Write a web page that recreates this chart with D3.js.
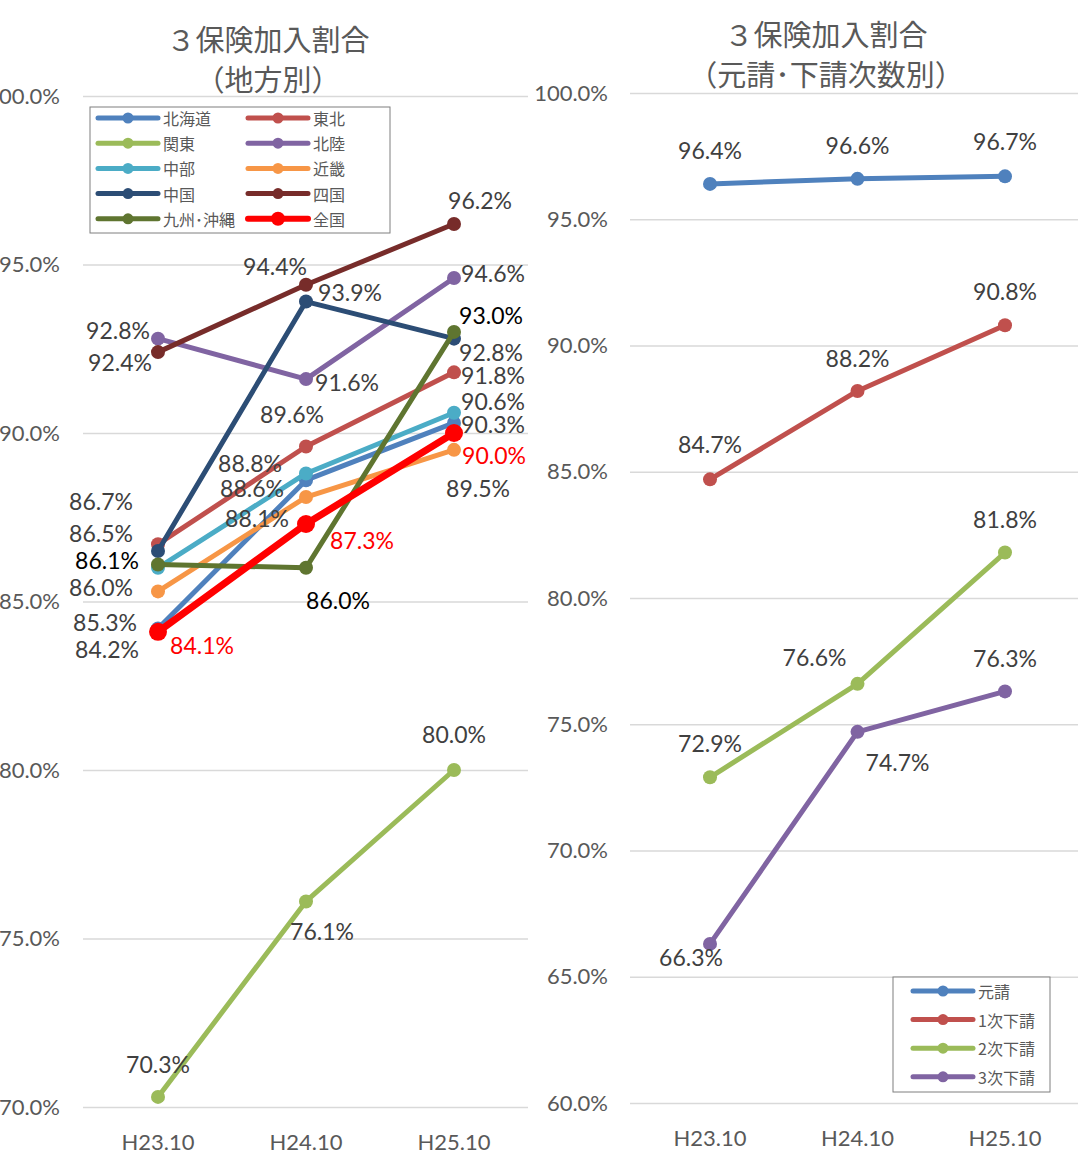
<!DOCTYPE html>
<html>
<head>
<meta charset="utf-8">
<script src="https://cdn.jsdelivr.net/npm/d3@7"></script>
<style>
  body { margin: 0; background: #fff; }
  text { font-family: Lato, "Noto Sans CJK JP", sans-serif; }
  .jp { font-family: "Noto Sans CJK JP", sans-serif; }
</style>
</head>
<body>
<svg id="chart" width="1078" height="1160"></svg>
<script>
// ---- data ----
const periods = ["H23.10", "H24.10", "H25.10"];

// left panel: by region
const regionNames = ["北海道", "東北", "関東", "北陸", "中部", "近畿", "中国", "四国", "九州･沖縄", "全国"];
const hokkaido = [84.2, 88.6, 90.3];
const tohoku = [86.7, 89.6, 91.8];
const kanto = [70.3, 76.1, 80.0];
const hokuriku = [92.8, 91.6, 94.6];
const chubu = [86.0, 88.8, 90.6];
const kinki = [85.3, 88.1, 89.5];
const chugoku = [86.5, 93.9, 92.8];
const shikoku = [92.4, 94.4, 96.2];
const kyushu = [86.1, 86.0, 93.0];
const zenkoku = [84.1, 87.3, 90.0];
const regionTicks = [70, 75, 80, 85, 90, 95, 100];

// right panel: by contract tier
const tierNames = ["元請", "1次下請", "2次下請", "3次下請"];
const motouke = [96.4, 96.6, 96.7];
const shita1 = [84.7, 88.2, 90.8];
const shita2 = [72.9, 76.6, 81.8];
const shita3 = [66.3, 74.7, 76.3];
const tierTicks = [60, 65, 70, 75, 80, 85, 90, 95, 100];

// ---- styling / placement ----
const regionColors = ["#4F81BD", "#C0504D", "#9BBB59", "#8064A2", "#4BACC6", "#F79646", "#2C4D75", "#772C2A", "#5F7530", "#FF0000"];
const tierColors = ["#4F81BD", "#C0504D", "#9BBB59", "#8064A2"];

// label offsets (dx, dy) from each point, per series
const regionLabelPos = [
  [[-51, 21], [-54, 8], [39, 1]],
  [[-57, -43], [-14, -32], [39, 3]],
  [[0, -33], [16, 30], [0, -36]],
  [[-40, -9], [41, 3], [39, -5]],
  [[-57, 19], [-56, -10], [39, -12]],
  [[-53, 31], [-49, 21], [24, 38]],
  [[-57, -18], [44, -10], [37, 13]],
  [[-38, 10], [-31, -19], [26, -24]],
  [[-51, -4], [32, 32], [37, -17]],
  [[44, 13], [56, 16], [40, 22]]
];
const regionLabelColors = ["#404040", "#404040", "#404040", "#404040", "#404040", "#404040", "#404040", "#404040", "#000", "#FF0000"];

const tierLabelPos = [
  [[0, -34], [0, -34], [0, -35]],
  [[0, -35], [0, -33], [0, -34]],
  [[0, -34], [-43, -27], [0, -34]],
  [[-19, 13], [40, 30], [0, -33]]
];

const svg = d3.select("#chart");

function drawPanel(cfg) {
  const g = svg.append("g");

  const x = d3.scalePoint().domain(periods).range(cfg.xRange);
  const y = d3.scaleLinear().domain(cfg.yDomain).range(cfg.yRange);

  // gridlines + y tick labels
  const axis = d3.axisLeft(y)
    .tickValues(cfg.ticks)
    .tickFormat(d => d.toFixed(1) + "%")
    .tickSize(-(cfg.gridRight - cfg.gridLeft))
    .tickPadding(cfg.tickPad);
  const ga = g.append("g")
    .attr("transform", `translate(${cfg.gridLeft},0)`)
    .call(axis)
    .attr("font-family", null)
    .attr("font-size", null);
  ga.select(".domain").remove();
  ga.selectAll(".tick line").attr("stroke", "#D9D9D9").attr("stroke-width", 1.5);
  ga.selectAll(".tick text").attr("fill", "#595959").style("font-size", "22px");

  // x labels
  g.selectAll(".xlab")
    .data(periods)
    .join("text")
    .attr("x", d => x(d))
    .attr("y", cfg.xLabelY)
    .attr("text-anchor", "middle")
    .attr("dominant-baseline", "central")
    .attr("fill", "#595959")
    .style("font-size", "22px")
    .text(d => d);

  // title
  cfg.title.forEach((t, i) => {
    g.append("text")
      .attr("class", "jp")
      .attr("x", cfg.titleX)
      .attr("y", cfg.titleY + i * 40)
      .attr("text-anchor", "middle")
      .attr("dominant-baseline", "central")
      .attr("fill", "#595959")
      .style("font-size", "29px")
      .text(t);
  });

  const line = d3.line()
    .x((d, j) => x(periods[j]))
    .y(d => y(d));

  // series
  cfg.values.forEach((vals, i) => {
    const bold = cfg.boldIndex === i;
    g.append("path")
      .datum(vals)
      .attr("d", line)
      .attr("fill", "none")
      .attr("stroke", cfg.colors[i])
      .attr("stroke-width", bold ? 7 : 5)
      .attr("stroke-linejoin", "round");
    g.selectAll(null)
      .data(vals)
      .join("circle")
      .attr("cx", (d, j) => x(periods[j]))
      .attr("cy", d => y(d))
      .attr("r", bold ? 9 : 7)
      .attr("fill", cfg.colors[i]);
  });

  // data labels on top
  cfg.values.forEach((vals, i) => {
    g.selectAll(null)
      .data(vals)
      .join("text")
      .attr("x", (d, j) => x(periods[j]) + cfg.labelPos[i][j][0])
      .attr("y", (d, j) => y(d) + cfg.labelPos[i][j][1])
      .attr("text-anchor", "middle")
      .attr("dominant-baseline", "central")
      .attr("fill", cfg.labelColors ? cfg.labelColors[i] : "#404040")
      .style("font-size", "23px")
      .text(d => d.toFixed(1) + "%");
  });

  // legend
  const lg = cfg.legend;
  const leg = g.append("g");
  leg.append("rect")
    .attr("x", lg.x).attr("y", lg.y)
    .attr("width", lg.w).attr("height", lg.h)
    .attr("fill", "#fff")
    .attr("stroke", "#7F7F7F")
    .attr("stroke-width", 1);
  cfg.names.forEach((name, i) => {
    const col = i % lg.cols;
    const row = Math.floor(i / lg.cols);
    const lx = lg.x + lg.padX + col * lg.colW;
    const ly = lg.y + lg.padY + row * lg.rowH;
    const bold = cfg.boldIndex === i;
    leg.append("line")
      .attr("x1", lx).attr("x2", lx + 60)
      .attr("y1", ly).attr("y2", ly)
      .attr("stroke", cfg.colors[i])
      .attr("stroke-width", bold ? 6 : 5)
      .attr("stroke-linecap", "round");
    leg.append("circle")
      .attr("cx", lx + 30).attr("cy", ly)
      .attr("r", bold ? 7 : 5.5)
      .attr("fill", cfg.colors[i]);
    leg.append("text")
      .attr("class", "jp")
      .attr("x", lx + 65).attr("y", ly)
      .attr("dominant-baseline", "central")
      .attr("fill", "#595959")
      .style("font-size", "16px")
      .text(name);
  });
}

drawPanel({
  names: regionNames,
  values: [hokkaido, tohoku, kanto, hokuriku, chubu, kinki, chugoku, shikoku, kyushu, zenkoku],
  colors: regionColors,
  labelPos: regionLabelPos,
  labelColors: regionLabelColors,
  boldIndex: 9,
  ticks: regionTicks,
  yDomain: [70, 100],
  yRange: [1107, 96],
  xRange: [158, 454],
  gridLeft: 83,
  gridRight: 528,
  tickPad: 23,
  xLabelY: 1141,
  title: ["３保険加入割合", "（地方別）"],
  titleX: 268,
  titleY: 38,
  legend: { x: 90, y: 107, w: 300, h: 126, cols: 2, colW: 150, rowH: 25.2, padX: 8, padY: 11 }
});

drawPanel({
  names: tierNames,
  values: [motouke, shita1, shita2, shita3],
  colors: tierColors,
  labelPos: tierLabelPos,
  boldIndex: -1,
  ticks: tierTicks,
  yDomain: [60, 100],
  yRange: [1103, 93],
  xRange: [710, 1005],
  gridLeft: 630,
  gridRight: 1078,
  tickPad: 22,
  xLabelY: 1137,
  title: ["３保険加入割合", "（元請･下請次数別）"],
  titleX: 826,
  titleY: 33,
  legend: { x: 893, y: 977, w: 157, h: 115, cols: 1, colW: 0, rowH: 28.6, padX: 20, padY: 14 }
});
</script>
</body>
</html>
